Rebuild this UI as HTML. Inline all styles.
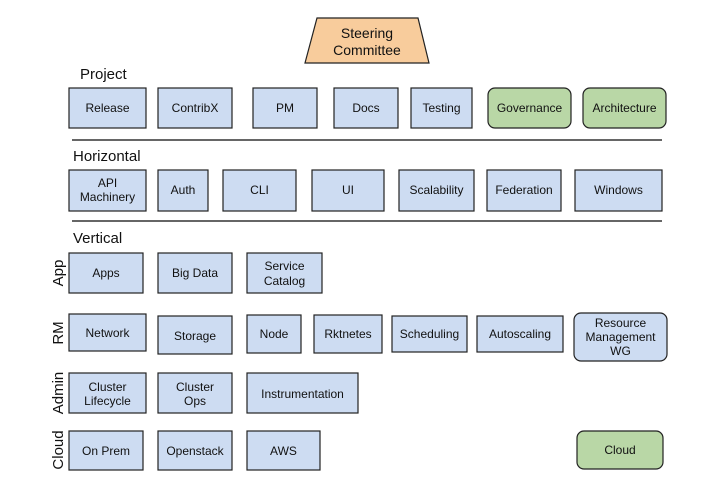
<!DOCTYPE html>
<html><head><meta charset="utf-8"><style>
html,body{margin:0;padding:0;background:#fff;}
svg{display:block;font-family:"Liberation Sans",Arial,sans-serif;}
</style></head><body>
<svg width="723" height="498" viewBox="0 0 723 498" xmlns="http://www.w3.org/2000/svg">
<defs><style>
.b{fill:#cddcf2;stroke:#222;stroke-width:1.2}
.g{fill:#b9d7a6;stroke:#222;stroke-width:1.2}
text{font-size:12px;fill:#111}
.t{text-anchor:middle}
.h{font-size:15px}
</style></defs>
<polygon points="317,18 418,18 429,63 305,63" fill="#f8cc9c" stroke="#222" stroke-width="1.2"/>
<text class="t" x="367" y="38" style="font-size:14px">Steering</text>
<text class="t" x="367" y="55" style="font-size:14px">Committee</text>

<text class="h" x="80" y="79">Project</text>
<text class="h" x="73" y="161">Horizontal</text>
<text class="h" x="73" y="243">Vertical</text>

<line x1="72" y1="140" x2="662" y2="140" stroke="#333" stroke-width="1.5"/>
<line x1="72" y1="221" x2="662" y2="221" stroke="#333" stroke-width="1.5"/>

<!-- Project -->
<rect class="b" x="69" y="88" width="77" height="40"/><text class="t" x="107.5" y="112">Release</text>
<rect class="b" x="158" y="88" width="74" height="40"/><text class="t" x="195" y="112">ContribX</text>
<rect class="b" x="253" y="88" width="64" height="40"/><text class="t" x="285" y="112">PM</text>
<rect class="b" x="334" y="88" width="64" height="40"/><text class="t" x="366" y="112">Docs</text>
<rect class="b" x="411" y="88" width="61" height="40"/><text class="t" x="441.5" y="112">Testing</text>
<rect class="g" x="488" y="88" width="83" height="40" rx="7"/><text class="t" x="529.5" y="112">Governance</text>
<rect class="g" x="583" y="88" width="83" height="40" rx="7"/><text class="t" x="624.5" y="112">Architecture</text>

<!-- Horizontal -->
<rect class="b" x="69" y="170" width="77" height="41"/><text class="t" x="107.5" y="187">API</text><text class="t" x="107.5" y="201">Machinery</text>
<rect class="b" x="158" y="170" width="50" height="41"/><text class="t" x="183" y="194">Auth</text>
<rect class="b" x="223" y="170" width="73" height="41"/><text class="t" x="259.5" y="194">CLI</text>
<rect class="b" x="312" y="170" width="72" height="41"/><text class="t" x="348" y="194">UI</text>
<rect class="b" x="399" y="170" width="75" height="41"/><text class="t" x="436.5" y="194">Scalability</text>
<rect class="b" x="487" y="170" width="74" height="41"/><text class="t" x="524" y="194">Federation</text>
<rect class="b" x="575" y="170" width="87" height="41"/><text class="t" x="618.5" y="194">Windows</text>

<!-- side labels -->
<g style="font-size:15px">
<text class="t h" transform="translate(63,273) rotate(-90)">App</text>
<text class="t h" transform="translate(63,333) rotate(-90)">RM</text>
<text class="t h" transform="translate(63,393) rotate(-90)">Admin</text>
<text class="t h" transform="translate(63,450) rotate(-90)">Cloud</text>
</g>

<!-- App -->
<rect class="b" x="69" y="253" width="74" height="40"/><text class="t" x="106" y="277">Apps</text>
<rect class="b" x="158" y="253" width="74" height="40"/><text class="t" x="195" y="277">Big Data</text>
<rect class="b" x="247" y="253" width="75" height="40"/><text class="t" x="284.5" y="270">Service</text><text class="t" x="284.5" y="285">Catalog</text>

<!-- RM -->
<rect class="b" x="69" y="314" width="77" height="37"/><text class="t" x="107.5" y="337">Network</text>
<rect class="b" x="158" y="316" width="74" height="38"/><text class="t" x="195" y="340">Storage</text>
<rect class="b" x="247" y="315" width="54" height="38"/><text class="t" x="274" y="338">Node</text>
<rect class="b" x="314" y="315" width="68" height="38"/><text class="t" x="348" y="338">Rktnetes</text>
<rect class="b" x="392" y="316" width="75" height="36"/><text class="t" x="429.5" y="338">Scheduling</text>
<rect class="b" x="477" y="316" width="86" height="36"/><text class="t" x="520" y="338">Autoscaling</text>
<rect class="b" x="574" y="313" width="93" height="48" rx="7"/><text class="t" x="620.5" y="327">Resource</text><text class="t" x="620.5" y="341">Management</text><text class="t" x="620.5" y="355">WG</text>

<!-- Admin -->
<rect class="b" x="69" y="373" width="77" height="40"/><text class="t" x="107.5" y="391">Cluster</text><text class="t" x="107.5" y="405">Lifecycle</text>
<rect class="b" x="158" y="373" width="74" height="40"/><text class="t" x="195" y="391">Cluster</text><text class="t" x="195" y="405">Ops</text>
<rect class="b" x="247" y="373" width="111" height="40"/><text class="t" x="302.5" y="398">Instrumentation</text>

<!-- Cloud -->
<rect class="b" x="69" y="431" width="74" height="39"/><text class="t" x="106" y="455">On Prem</text>
<rect class="b" x="158" y="431" width="74" height="39"/><text class="t" x="195" y="455">Openstack</text>
<rect class="b" x="247" y="431" width="73" height="39"/><text class="t" x="283.5" y="455">AWS</text>
<rect class="g" x="577" y="431" width="86" height="38" rx="7"/><text class="t" x="620" y="454">Cloud</text>
</svg>
</body></html>
